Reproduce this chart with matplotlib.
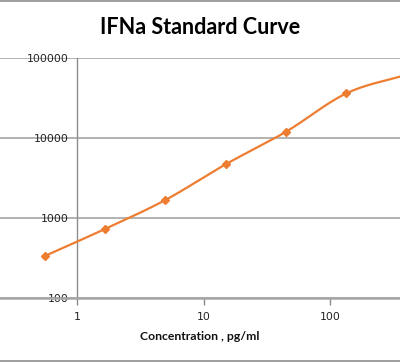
import numpy as np
import matplotlib
matplotlib.use("Agg")
import matplotlib.pyplot as plt
from matplotlib.lines import Line2D

# Data
concentration = [0.556, 1.667, 5, 15, 45, 135, 405]
signal = [335, 730, 1680, 4700, 12000, 36200, 62000]
x_ticks = [1, 10, 100]
x_tick_labels = ["1", "10", "100"]
y_ticks = [100, 1000, 10000, 100000]
y_tick_labels = ["100", "1000", "10000", "100000"]
title = "IFNa Standard Curve"
x_label = "Concentration , pg/ml"

ORANGE = "#ED7D31"

fig = plt.figure(figsize=(4.0, 3.62), dpi=100)
ax = fig.add_axes([0.0, 1 - 298 / 362, 1.0, 240 / 362])
ax.set_xscale("log")
ax.set_yscale("log")
ax.set_xlim(10 ** (-77 / 126.5), 10 ** (323 / 126.5))
ax.set_ylim(100, 100000)

# smooth line (Catmull-Rom in log space, like Excel's smoothed line)
lx = np.log10(concentration)
ly = np.log10(signal)
P = np.column_stack([lx, ly])
P = np.vstack([2 * P[0] - P[1], P, 2 * P[-1] - P[-2]])
seg = []
for i in range(1, len(P) - 2):
    p0, p1, p2, p3 = P[i - 1], P[i], P[i + 1], P[i + 2]
    t = np.linspace(0, 1, 40)[:, None]
    c = 0.5 * ((2 * p1) + (-p0 + p2) * t + (2 * p0 - 5 * p1 + 4 * p2 - p3) * t ** 2
               + (-p0 + 3 * p1 - 3 * p2 + p3) * t ** 3)
    seg.append(c)
curve = np.vstack(seg)
ax.plot(10 ** curve[:, 0], 10 ** curve[:, 1], color=ORANGE, lw=1.6, zorder=3)
ax.plot(concentration, signal, linestyle="none", marker="D", ms=3.6, color=ORANGE, zorder=4)

# axes styling
for s in ["top", "right"]:
    ax.spines[s].set_visible(False)
ax.spines["left"].set_position(("data", 1))
ax.spines["left"].set_color("#8c8c8c")
ax.spines["left"].set_linewidth(1.0)
ax.spines["bottom"].set_color("#a6a6a6")
ax.spines["bottom"].set_linewidth(1.8)

ax.yaxis.grid(True, which="major", color="#a6a6a6", lw=1.2)
ax.set_axisbelow(True)
ax.minorticks_off()
ax.set_xticks(x_ticks)
ax.set_xticklabels(x_tick_labels)
ax.set_yticks(y_ticks)
ax.set_yticklabels(y_tick_labels)
ax.tick_params(axis="x", length=5, width=1, color="#8c8c8c", pad=5,
               labelsize=7.8, labelcolor="#222222")
ax.tick_params(axis="y", length=0, pad=6, labelsize=7.8, labelcolor="#222222")
for lab in ax.get_yticklabels():
    lab.set_zorder(5)

fig.text(0.5, 1 - 27 / 362, title, ha="center", va="center",
         fontsize=15.5, fontweight="bold", family="Lato")
fig.text(0.5, 1 - 337 / 362, x_label, ha="center", va="center",
         fontsize=8.8, fontweight="bold", family="Lato", color="#111111")

# chart area border lines
fig.add_artist(Line2D([0, 1], [1 - 0.5 / 362, 1 - 0.5 / 362], transform=fig.transFigure,
                      color="#8c8c8c", lw=1.2))
fig.add_artist(Line2D([0, 1], [1.3 / 362, 1.3 / 362], transform=fig.transFigure,
                      color="#8c8c8c", lw=1.2))

fig.savefig("out.png", dpi=100)
